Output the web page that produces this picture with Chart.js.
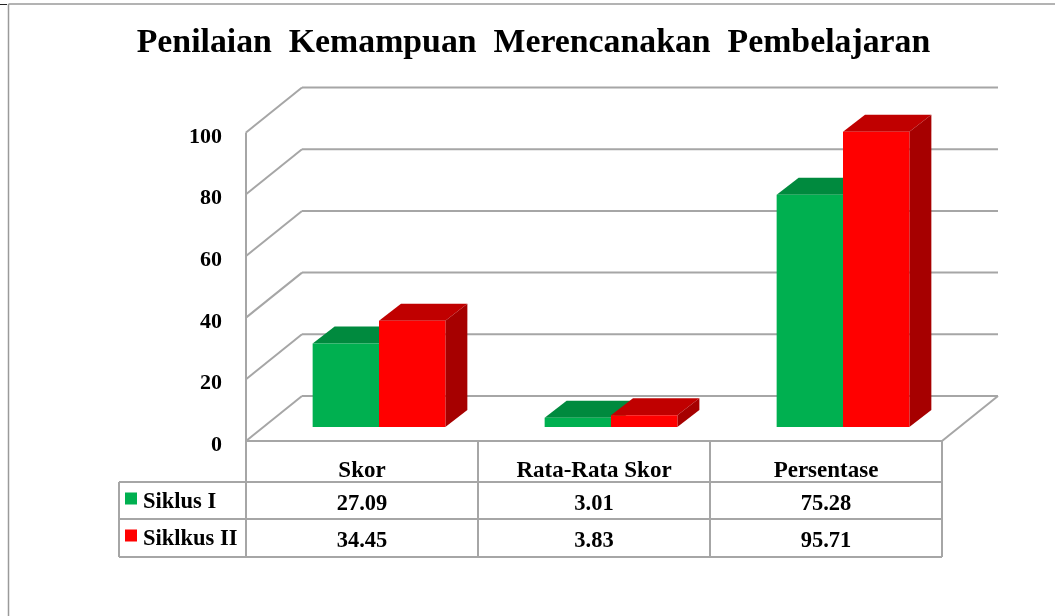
<!DOCTYPE html>
<html>
<head>
<meta charset="utf-8">
<script src="https://cdn.jsdelivr.net/npm/chart.js@4"></script>
<style>
  html, body { margin: 0; padding: 0; background: #fff; }
  #wrap { width: 1055px; height: 616px; position: relative; overflow: hidden; }
</style>
</head>
<body>
<div id="wrap"><canvas id="chart" width="1055" height="616"></canvas></div>
<script>
const titleText = "Penilaian  Kemampuan  Merencanakan  Pembelajaran";
const categories = ["Skor", "Rata-Rata Skor", "Persentase"];
const seriesNames = ["Siklus I", "Siklkus II"];
const siklus1 = [27.09, 3.01, 75.28];
const siklus2 = [34.45, 3.83, 95.71];
const cellLabels1 = ["27.09", "3.01", "75.28"];
const cellLabels2 = ["34.45", "3.83", "95.71"];

const FONT = '"Liberation Serif", serif';
const GRID = "#a6a6a6";
// offset of the bar plane from the front of the floor, and from the floor to the back wall
const barShift = { x: 17, y: -14 };
const wallShift = { x: 56, y: -45 };
const barDepth = { x: 22, y: -17 };
const faces = [
  { front: "#00b050", top: "#008a3e", side: "#00843c" },
  { front: "#ff0000", top: "#c00000", side: "#a60000" },
];

function line(ctx, x1, y1, x2, y2) {
  ctx.beginPath();
  ctx.moveTo(x1, y1);
  ctx.lineTo(x2, y2);
  ctx.stroke();
}

function poly(ctx, pts, color) {
  ctx.fillStyle = color;
  ctx.beginPath();
  pts.forEach((p, i) => (i ? ctx.lineTo(p[0], p[1]) : ctx.moveTo(p[0], p[1])));
  ctx.closePath();
  ctx.fill();
}

// Walls, floor and the top/side faces of the bars
const threeD = {
  id: "threeD",
  beforeDatasetsDraw(chart) {
    const ctx = chart.ctx;
    const y = chart.scales.y;
    const area = chart.chartArea;
    const left = area.left - barShift.x;
    const right = area.right - barShift.x;
    ctx.save();
    ctx.strokeStyle = GRID;
    ctx.lineWidth = 2;
    y.ticks.forEach((t) => {
      const py = y.getPixelForValue(t.value) - barShift.y;
      line(ctx, left, py, left + wallShift.x, py + wallShift.y);
      line(ctx, left + wallShift.x, py + wallShift.y, right + wallShift.x, py + wallShift.y);
    });
    const zero = y.getPixelForValue(0) - barShift.y;
    const top = y.getPixelForValue(100) - barShift.y;
    line(ctx, left, zero, left, top);
    line(ctx, left, zero, right, zero);
    line(ctx, right, zero, right + wallShift.x, zero + wallShift.y);

    chart.data.datasets.forEach((ds, d) => {
      chart.getDatasetMeta(d).data.forEach((bar) => {
        const p = bar.getProps(["x", "y", "base", "width"], true);
        const x1 = p.x - p.width / 2;
        const x2 = p.x + p.width / 2;
        const dx = barDepth.x;
        const dy = barDepth.y;
        poly(ctx, [[x1, p.y], [x1 + dx, p.y + dy], [x2 + dx, p.y + dy], [x2, p.y]], faces[d].top);
        poly(ctx, [[x2, p.y], [x2 + dx, p.y + dy], [x2 + dx, p.base + dy], [x2, p.base]], faces[d].side);
      });
    });
    ctx.restore();
  },
  // Data table under the chart
  afterDraw(chart) {
    const ctx = chart.ctx;
    const area = chart.chartArea;
    const left = area.left - barShift.x;
    const step = (area.right - area.left) / categories.length;
    const tableLeft = 119;
    const head = chart.scales.y.getPixelForValue(0) - barShift.y;
    const rows = [482, 519, 557];
    ctx.save();
    ctx.strokeStyle = GRID;
    ctx.lineWidth = 2;
    rows.forEach((r) => line(ctx, tableLeft, r, left + step * 3, r));
    line(ctx, tableLeft, rows[0], tableLeft, rows[2]);
    for (let i = 0; i <= 3; i++) {
      line(ctx, left + step * i, head, left + step * i, rows[2]);
    }
    ctx.fillStyle = "#000";
    ctx.font = "bold 22.5px " + FONT;
    ctx.textBaseline = "alphabetic";
    ctx.textAlign = "center";
    [cellLabels1, cellLabels2].forEach((row, r) => {
      row.forEach((label, i) => {
        ctx.fillText(label, left + step * (i + 0.5), rows[r] + 27.5);
      });
    });
    ctx.textAlign = "left";
    ctx.font = "bold 22.5px " + FONT;
    seriesNames.forEach((name, r) => {
      ctx.fillStyle = faces[r].front;
      ctx.fillRect(125, rows[r] + 10.5, 12, 12);
      ctx.fillStyle = "#000";
      ctx.fillText(name, 143, rows[r] + 25.5);
    });
    ctx.restore();
  },
};

// Edge of the slide: only the top and left sides are in the picture
const frame = {
  id: "frame",
  beforeDraw(chart) {
    const ctx = chart.ctx;
    ctx.save();
    ctx.strokeStyle = "#9a9a9a";
    ctx.lineWidth = 1.5;
    line(ctx, 8.5, 4, 1055, 4);
    line(ctx, 8.5, 4, 8.5, 616);
    ctx.strokeStyle = "#222";
    ctx.lineWidth = 1;
    line(ctx, 0, 4.5, 7, 4.5);
    ctx.restore();
  },
};

new Chart(document.getElementById("chart"), {
  type: "bar",
  data: {
    labels: categories,
    datasets: [
      { label: seriesNames[0], data: siklus1, backgroundColor: faces[0].front },
      { label: seriesNames[1], data: siklus2, backgroundColor: faces[1].front },
    ],
  },
  plugins: [frame, threeD],
  options: {
    responsive: false,
    animation: false,
    events: [],
    layout: { padding: { left: 108, right: 96, top: 0, bottom: 0 } },
    datasets: { bar: { categoryPercentage: 0.572, barPercentage: 1, borderWidth: 0 } },
    scales: {
      x: {
        grid: { display: false, drawTicks: false },
        border: { display: false },
        ticks: {
          maxRotation: 0,
          padding: 30,
          labelOffset: -17,
          color: "#000",
          font: { family: FONT, size: 23, weight: "bold" },
        },
        afterFit(scale) { scale.height = 189; },
      },
      y: {
        min: 0,
        max: 100,
        grid: { display: false, drawTicks: false },
        border: { display: false },
        ticks: {
          stepSize: 20,
          padding: 41,
          labelOffset: 18.5,
          color: "#000",
          font: { family: FONT, size: 22, weight: "bold" },
        },
        afterFit(scale) { scale.width = 155; },
      },
    },
    plugins: {
      legend: { display: false },
      tooltip: { enabled: false },
      title: {
        display: true,
        text: titleText,
        color: "#000",
        font: { family: FONT, size: 33.8, weight: "bold" },
        padding: { top: 23, bottom: 55 },
      },
    },
  },
});
</script>
</body>
</html>
